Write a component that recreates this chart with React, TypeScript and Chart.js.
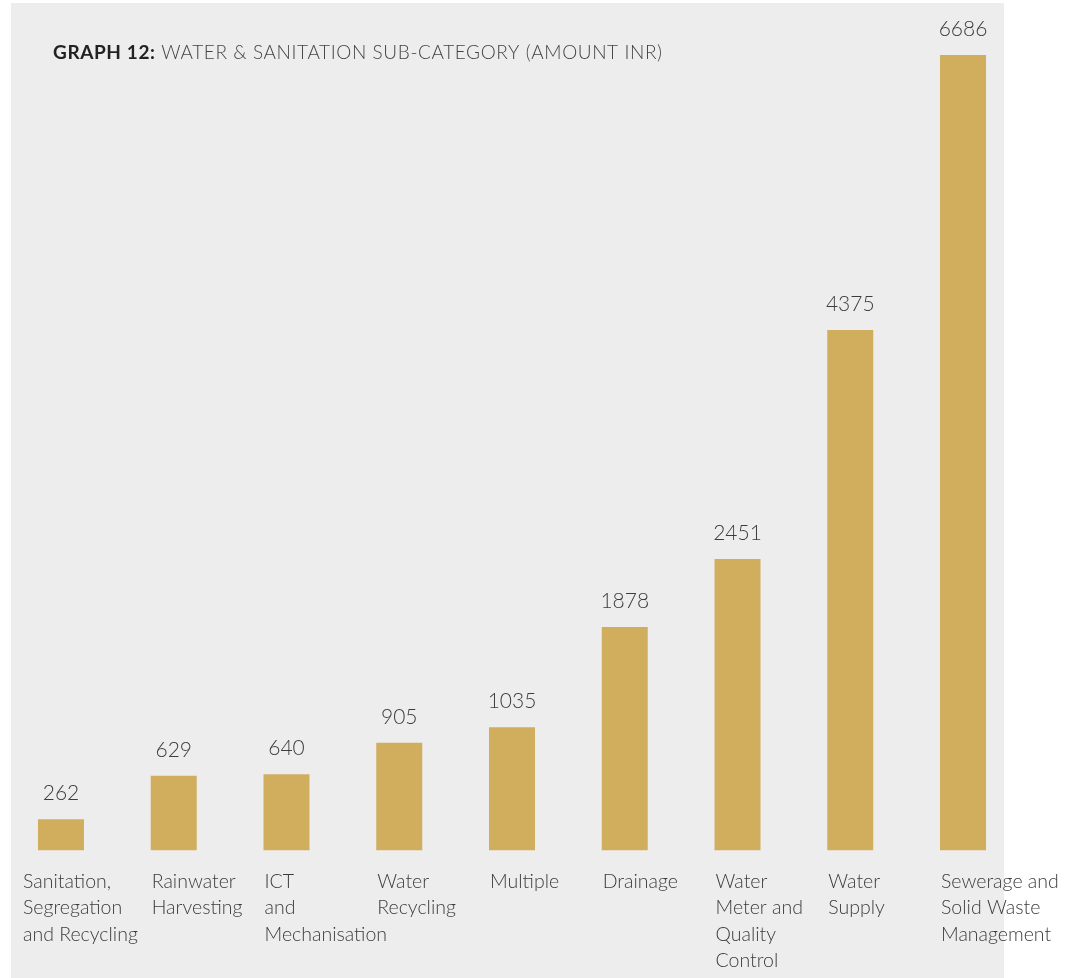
import React, { useEffect, useRef } from "react";
import { Chart, registerables } from "chart.js";

Chart.register(...registerables);

const categories: string[][] = [
  ["Sanitation,", "Segregation", "and Recycling"],
  ["Rainwater", "Harvesting"],
  ["ICT", "and", "Mechanisation"],
  ["Water", "Recycling"],
  ["Multiple"],
  ["Drainage"],
  ["Water", "Meter and", "Quality", "Control"],
  ["Water", "Supply"],
  ["Sewerage and", "Solid Waste", "Management"],
];
const amounts: number[] = [262, 629, 640, 905, 1035, 1878, 2451, 4375, 6686];
const titleBold = "GRAPH 12:";
const titleRest = " WATER & SANITATION SUB-CATEGORY (AMOUNT INR)";

const FONT = "Lato";
const TEXT = "#3c3c3c";

const labelsPlugin = {
  id: "customLabels",
  afterDatasetsDraw(chart: any) {
    const ctx: any = chart.ctx;
    const meta = chart.getDatasetMeta(0);
    ctx.save();
    // title
    ctx.textBaseline = "alphabetic";
    ctx.textAlign = "left";
    ctx.letterSpacing = "0.6px";
    ctx.fillStyle = "#222";
    ctx.font = `bold 19px ${FONT}`;
    ctx.fillText(titleBold, 53, 59);
    const w = ctx.measureText(titleBold).width;
    ctx.fillStyle = "#444";
    ctx.font = `300 19px ${FONT}`;
    ctx.fillText(titleRest, 53 + w, 59);
    ctx.letterSpacing = "0px";

    meta.data.forEach((el: any, i: number) => {
      const props = el.getProps(["x", "y", "width", "base"], true);
      // value
      ctx.fillStyle = TEXT;
      ctx.font = `300 21px ${FONT}`;
      ctx.textAlign = "center";
      ctx.fillText(String(amounts[i]), props.x, props.y - 19);
      // category
      ctx.font = `300 19.5px ${FONT}`;
      ctx.textAlign = "left";
      let lx = props.x - props.width / 2;
      if (i === 0) lx -= 16;
      categories[i].forEach((line, j) => {
        ctx.fillText(line, lx + 1, 888 + j * 26.4);
      });
    });
    ctx.restore();
  },
};

export default function App() {
  const ref = useRef<HTMLCanvasElement | null>(null);
  useEffect(() => {
    document.body.style.margin = "0";
    const canvas = ref.current!;
    const chart = new Chart(canvas, {
      type: "bar",
      data: {
        labels: categories.map((c) => c.join(" ")),
        datasets: [
          {
            data: amounts,
            backgroundColor: "#d1ae5e",
            borderWidth: 0,
            categoryPercentage: 1,
            barPercentage: 0.408,
          },
        ],
      },
      options: {
        responsive: false,
        animation: false,
        devicePixelRatio: 1,
        layout: { padding: { left: 4.6, right: 61.6, top: 55, bottom: 127.5 } },
        plugins: { legend: { display: false }, tooltip: { enabled: false }, title: { display: false } },
        scales: {
          x: { display: false, offset: true },
          y: { display: false, min: 0, max: 6686 },
        },
      },
      plugins: [labelsPlugin],
    });
    return () => chart.destroy();
  }, []);
  return (
    <div style={{ position: "relative", width: 1081, height: 978 }}>
      <div
        style={{ position: "absolute", left: 11, top: 3, width: 993, height: 975, background: "#ededed" }}
      />
      <canvas ref={ref} width={1081} height={978} style={{ position: "absolute", left: 0, top: 0 }} />
    </div>
  );
}
